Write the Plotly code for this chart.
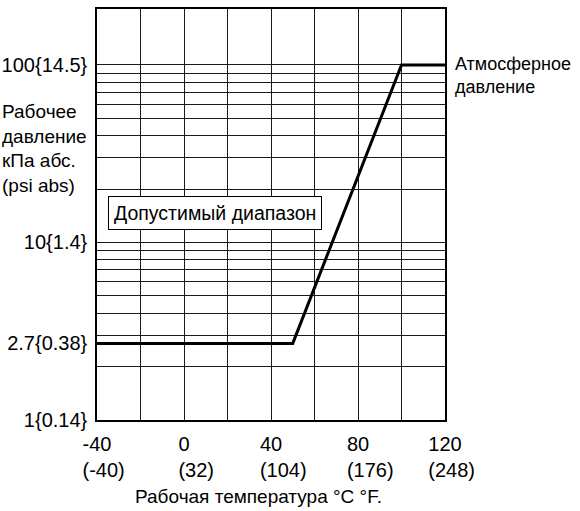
import plotly.graph_objects as go

# ---- data ----
temp_c = [-40, 50, 100, 120]          # °C
pressure_kpa = [2.7, 2.7, 100, 100]   # kPa abs

x_tick_vals = [-40, 0, 40, 80, 120]
x_tick_top = ["-40", "0", "40", "80", "120"]
x_tick_bottom = ["(-40)", "(32)", "(104)", "(176)", "(248)"]
x_hidden_pad = ["()", "(0)", "(0)", "(0)", "()"]

y_tick_vals = [1, 2.7, 10, 100]
y_tick_text = ["1{0.14}", "2.7{0.38}", "10{1.4}", "100{14.5}"]
y_grid_vals = [2, 3, 4, 5, 6, 7, 8, 9, 10, 20, 30, 40, 50, 60, 70, 80, 90, 100]

FONT = "Liberation Sans, Arial, sans-serif"
FS_TICK = 20
FS_TEXT = 19

x_tick_text = [
    f"{t}<br><span style=\"color:rgba(0,0,0,0)\">{p}</span>{b}"
    for t, b, p in zip(x_tick_top, x_tick_bottom, x_hidden_pad)
]

fig = go.Figure()
fig.add_trace(go.Scatter(
    x=temp_c, y=pressure_kpa, mode="lines",
    line=dict(color="black", width=3),
    showlegend=False, hoverinfo="skip",
))

W, H = 580, 511
L, R, T, B = 97, 135, 9, 91
pw, ph = W - L - R, H - T - B

def px(x):
    return (x - L) / pw

def py(y):
    return (H - B - y) / ph

GRID = "#1a1a1a"

fig.update_layout(
    width=W, height=H,
    margin=dict(l=L, r=R, t=T, b=B, autoexpand=False),
    paper_bgcolor="white", plot_bgcolor="white",
    font=dict(family=FONT, size=FS_TEXT, color="black"),
    xaxis=dict(
        range=[-40, 120], automargin=False,
        tickmode="array", tickvals=x_tick_vals, ticktext=x_tick_text,
        showgrid=True, gridcolor=GRID, gridwidth=1.2,
        minor=dict(tickmode="linear", tick0=-40, dtick=20, showgrid=True,
                   gridcolor=GRID, gridwidth=1.2),
        showline=True, mirror=True, linecolor="black", linewidth=1.5,
        zeroline=False, ticks="", tickfont=dict(size=FS_TICK),
        ticklabelstandoff=5,
        fixedrange=True,
    ),
    yaxis=dict(
        type="log", range=[0, 2.315], automargin=False,
        tickmode="array", tickvals=y_tick_vals, ticktext=y_tick_text,
        showgrid=False,
        minor=dict(tickmode="array", tickvals=y_grid_vals, showgrid=True,
                   gridcolor=GRID, gridwidth=1.2, ticks=""),
        showline=True, mirror=True, linecolor="black", linewidth=1.5,
        zeroline=False, ticks="", tickfont=dict(size=FS_TICK),
        ticklabelstandoff=4,
        fixedrange=True,
    ),
    annotations=[
        dict(text="Рабочее<br>давление<br>кПа абс.<br>(psi abs)",
             xref="paper", yref="paper", x=px(0), y=py(148),
             xanchor="left", yanchor="middle", align="left",
             showarrow=False, font=dict(size=FS_TEXT)),
        dict(text="Атмосферное<br>давление",
             xref="paper", yref="paper", x=px(453), y=py(75),
             xanchor="left", yanchor="middle", align="left",
             showarrow=False, font=dict(size=18)),
        dict(text="Допустимый диапазон",
             xref="paper", yref="paper", x=px(108), y=py(213),
             xanchor="left", yanchor="middle", align="left",
             showarrow=False, font=dict(size=19.5),
             bgcolor="white", bordercolor="black", borderwidth=1, borderpad=5),
        dict(text="Рабочая температура °C °F.",
             xref="paper", yref="paper", x=px(258), y=py(497),
             xanchor="center", yanchor="middle",
             showarrow=False, font=dict(size=FS_TEXT)),
    ],
)

fig.write_html("out.html", config={"displayModeBar": False},
               post_script="document.body.style.margin='0';")
